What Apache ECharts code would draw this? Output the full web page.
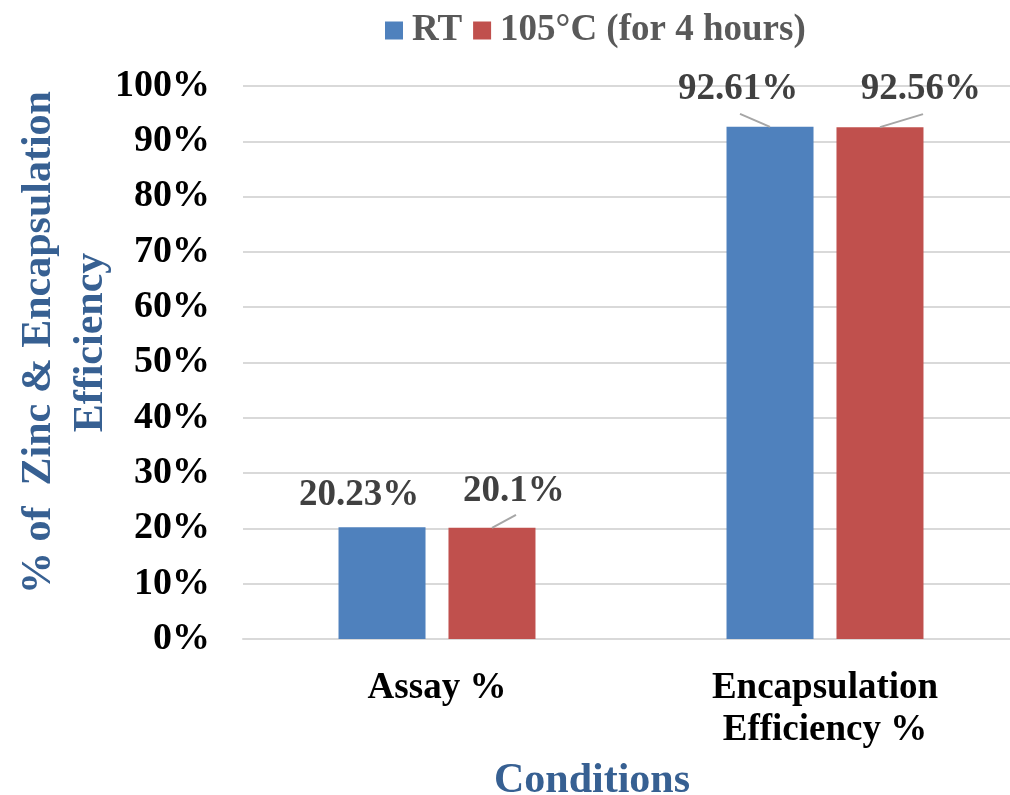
<!DOCTYPE html>
<html>
<head>
<meta charset="utf-8">
<script src="https://cdn.jsdelivr.net/npm/echarts@6/dist/echarts.min.js"></script>
<style>
  html, body { margin: 0; padding: 0; background: #fff; }
  #chart { width: 1010px; height: 795px; }
</style>
</head>
<body>
<div id="chart"></div>
<script>
// data
const categories = ["Assay %", "Encapsulation\nEfficiency %"];
const seriesNames = ["RT", "105°C (for 4 hours)"];
const rtValues = [20.23, 92.61];
const heatValues = [20.1, 92.56];
const yTicks = [0, 10, 20, 30, 40, 50, 60, 70, 80, 90, 100];

// where Excel moved the data labels, [series][category] -> [dx, dy, leader line?]
const labelShift = [
  [[-23, 0, false], [-32, -6, true]],
  [[22, -5, true], [41, -6, true]]
];

const font = "'Liberation Serif', 'Times New Roman', serif";
const barWidth = 87;
const barGapPx = 23;
const chart = echarts.init(document.getElementById("chart"));

// leader line points: one per moved label
const leaderData = [];
[rtValues, heatValues].forEach(function (vals, si) {
  vals.forEach(function (v, ci) {
    if (labelShift[si][ci][2]) leaderData.push([ci, v, si]);
  });
});

const option = {
  animation: false,
  color: ["#4F81BD", "#C0504D"],
  textStyle: { fontFamily: font },
  legend: {
    left: 380,
    top: 7,
    itemWidth: 18,
    itemHeight: 18,
    itemGap: 11,
    icon: "rect",
    textStyle: {
      fontFamily: font,
      fontSize: 37,
      fontWeight: "bold",
      color: "#595959",
      padding: [0, 0, 0, 4]
    },
    data: seriesNames
  },
  grid: {
    left: 243,
    right: -9,
    top: 86,
    bottom: 156,
    outerBoundsMode: "none",
    containLabel: false
  },
  xAxis: {
    type: "category",
    data: categories,
    name: "Conditions",
    nameLocation: "middle",
    nameGap: 121,
    nameMoveOverlap: false,
    nameTextStyle: {
      fontFamily: font,
      fontSize: 42,
      fontWeight: "bold",
      color: "#376092",
      padding: [0, 78, 0, 0]
    },
    axisLine: { lineStyle: { color: "#D9D9D9", width: 2 } },
    axisTick: { show: false },
    axisLabel: {
      margin: 28,
      fontFamily: font,
      fontSize: 37,
      fontWeight: "bold",
      color: "#000",
      lineHeight: 42
    }
  },
  yAxis: {
    type: "value",
    min: 0,
    max: 100,
    interval: 10,
    name: "% of  Zinc & Encapsulation\nEfficiency",
    nameLocation: "middle",
    nameGap: 126,
    nameMoveOverlap: false,
    nameTextStyle: {
      fontFamily: font,
      fontSize: 42,
      fontWeight: "bold",
      color: "#376092",
      lineHeight: 52,
      padding: [0, 0, 0, 40]
    },
    axisLine: { show: false },
    axisTick: { show: false },
    splitLine: { lineStyle: { color: "#D9D9D9", width: 2 } },
    axisLabel: {
      margin: 33,
      fontFamily: font,
      fontSize: 38,
      fontWeight: "bold",
      color: "#000",
      formatter: function (v) {
        return yTicks.indexOf(v) >= 0 ? v + "%" : "";
      }
    }
  },
  series: [rtValues, heatValues].map(function (vals, si) {
    return {
      name: seriesNames[si],
      type: "bar",
      barWidth: barWidth,
      barGap: (barGapPx / barWidth * 100).toFixed(1) + "%",
      data: vals,
      label: {
        show: true,
        position: "top",
        distance: 13,
        fontFamily: font,
        fontSize: 37,
        fontWeight: "bold",
        color: "#404040",
        formatter: function (p) { return p.value + "%"; }
      },
      labelLayout: function (p) {
        const s = labelShift[p.seriesIndex][p.dataIndex];
        return { dx: s[0], dy: s[1] };
      }
    };
  }).concat([{
    // leader lines from bar top to the moved labels
    type: "custom",
    name: "leaders",
    data: leaderData,
    z: 5,
    silent: true,
    renderItem: function (params, api) {
      const ci = api.value(0);
      const si = api.value(2);
      const top = api.coord([ci, api.value(1)]);
      const half = (barWidth + barGapPx) / 2;
      const bx = top[0] + (si === 0 ? -half : half);
      const s = labelShift[si][ci];
      return {
        type: "line",
        shape: { x1: bx, y1: top[1], x2: bx + s[0] + 2, y2: top[1] - 13 },
        style: { stroke: "#A6A6A6", lineWidth: 2 }
      };
    }
  }])
};

chart.setOption(option);
</script>
</body>
</html>
